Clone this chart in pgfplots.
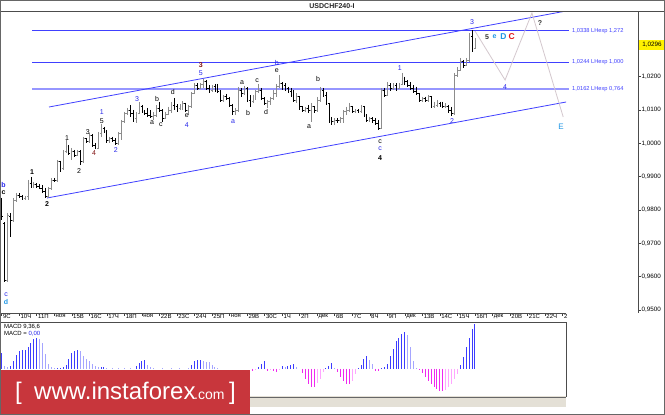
\documentclass[border=0pt]{standalone}
\usepackage{fontspec}
\setmainfont{Liberation Sans}
\usepackage{pgfplots}
\pgfplotsset{compat=1.18}
\usepackage{pgfplotstable}
\definecolor{mtblue}{RGB}{64,64,255}
\definecolor{mtlav}{RGB}{150,150,255}
\definecolor{wblue}{RGB}{40,40,235}
\definecolor{wmaroon}{RGB}{130,20,20}
\definecolor{wcyan}{RGB}{30,150,230}
\definecolor{wred}{RGB}{225,20,20}
\definecolor{macdB}{RGB}{60,60,255}
\definecolor{macdL}{RGB}{165,165,255}
\definecolor{macdM}{RGB}{240,40,240}
\definecolor{macdP}{RGB}{255,165,255}
\definecolor{logored}{RGB}{200,54,60}
\definecolor{strip}{RGB}{228,224,214}
\definecolor{fcast}{RGB}{212,200,206}
\definecolor{upbar}{RGB}{140,140,140}
\pgfdeclareplotmark{otick}{\pgfpathmoveto{\pgfqpoint{-1.3pt}{0pt}}\pgfpathlineto{\pgfqpoint{0pt}{0pt}}\pgfusepathqstroke}
\pgfdeclareplotmark{ctick}{\pgfpathmoveto{\pgfqpoint{0pt}{0pt}}\pgfpathlineto{\pgfqpoint{1.3pt}{0pt}}\pgfusepathqstroke}
\newcommand\lf{\fontsize{7}{8}\selectfont}
\newcommand\lfb{\fontsize{7}{8}\selectfont\bfseries}

\pgfplotstableread{
x h l o c
0 0.9836 0.9770 0.9830 0.9780
1 0.9763 0.9584 0.9760 0.9590
2 0.9791 0.9584 0.9590 0.9785
3 0.9791 0.9719 0.9780 0.9770
4 0.9836 0.9765 0.9770 0.9830
5 0.9851 0.9825 0.9830 0.9845
6 0.9851 0.9836 0.9845 0.9840
7 0.9845 0.9830 0.9840 0.9835
8 0.9842 0.9830 0.9835 0.9840
9 0.9890 0.9830 0.9840 0.9880
10 0.9899 0.9866 0.9880 0.9870
11 0.9884 0.9866 0.9870 0.9878
12 0.9881 0.9866 0.9878 0.9870
13 0.9878 0.9863 0.9870 0.9866
14 0.9875 0.9851 0.9866 0.9855
15 0.9866 0.9836 0.9855 0.9840
16 0.9869 0.9836 0.9840 0.9865
17 0.9896 0.9860 0.9865 0.9890
18 0.9896 0.9883 0.9890 0.9888
19 0.9950 0.9884 0.9888 0.9945
20 0.9948 0.9914 0.9945 0.9925
21 0.9980 0.9920 0.9925 0.9975
22 1.0010 0.9971 0.9975 0.9990
23 0.9995 0.9965 0.9990 0.9970
24 0.9986 0.9950 0.9970 0.9975
25 0.9980 0.9960 0.9975 0.9965
26 0.9980 0.9962 0.9965 0.9975
27 0.9980 0.9935 0.9975 0.9945
28 1.0019 0.9940 0.9945 1.0015
29 1.0016 1.0001 1.0015 1.0005
30 1.0030 1.0001 1.0005 1.0025
31 1.0028 0.9990 1.0025 0.9995
32 1.0001 0.9983 0.9995 0.9985
33 1.0034 0.9983 0.9985 1.0030
34 1.0058 1.0019 1.0030 1.0045
35 1.0050 1.0030 1.0045 1.0035
36 1.0040 1.0001 1.0035 1.0010
37 1.0020 1.0001 1.0010 1.0015
38 1.0020 1.0005 1.0015 1.0010
39 1.0015 0.9995 1.0010 1.0000
40 1.0034 0.9995 1.0000 1.0030
41 1.0070 1.0010 1.0030 1.0065
42 1.0094 1.0060 1.0065 1.0090
43 1.0106 1.0085 1.0090 1.0100
44 1.0115 1.0079 1.0100 1.0090
45 1.0100 1.0064 1.0090 1.0075
46 1.0094 1.0061 1.0075 1.0090
47 1.0124 1.0088 1.0090 1.0110
48 1.0115 1.0091 1.0110 1.0095
49 1.0100 1.0085 1.0095 1.0090
50 1.0106 1.0079 1.0090 1.0085
51 1.0100 1.0076 1.0085 1.0080
52 1.0094 1.0070 1.0080 1.0085
53 1.0115 1.0080 1.0085 1.0105
54 1.0124 1.0094 1.0105 1.0100
55 1.0102 1.0064 1.0100 1.0075
56 1.0094 1.0072 1.0075 1.0088
57 1.0110 1.0085 1.0088 1.0100
58 1.0124 1.0091 1.0100 1.0115
59 1.0136 1.0100 1.0115 1.0110
60 1.0117 1.0095 1.0110 1.0105
61 1.0117 1.0100 1.0105 1.0110
62 1.0127 1.0100 1.0110 1.0120
63 1.0122 1.0095 1.0120 1.0100
64 1.0115 1.0085 1.0100 1.0110
65 1.0154 1.0105 1.0110 1.0150
66 1.0181 1.0148 1.0150 1.0175
67 1.0181 1.0160 1.0175 1.0165
68 1.0181 1.0162 1.0165 1.0178
69 1.0193 1.0166 1.0178 1.0185
70 1.0190 1.0160 1.0185 1.0165
71 1.0175 1.0151 1.0165 1.0160
72 1.0175 1.0155 1.0160 1.0170
73 1.0178 1.0155 1.0170 1.0160
74 1.0178 1.0150 1.0160 1.0155
75 1.0160 1.0124 1.0155 1.0130
76 1.0145 1.0124 1.0130 1.0140
77 1.0148 1.0130 1.0140 1.0135
78 1.0139 1.0109 1.0135 1.0115
79 1.0118 1.0085 1.0115 1.0095
80 1.0105 1.0085 1.0095 1.0100
81 1.0169 1.0095 1.0100 1.0160
82 1.0166 1.0139 1.0160 1.0150
83 1.0172 1.0145 1.0150 1.0165
84 1.0168 1.0124 1.0165 1.0130
85 1.0145 1.0110 1.0130 1.0125
86 1.0145 1.0120 1.0125 1.0140
87 1.0160 1.0130 1.0140 1.0155
88 1.0178 1.0151 1.0155 1.0160
89 1.0166 1.0130 1.0160 1.0135
90 1.0138 1.0115 1.0135 1.0120
91 1.0130 1.0106 1.0120 1.0125
92 1.0139 1.0115 1.0125 1.0135
93 1.0160 1.0130 1.0135 1.0150
94 1.0178 1.0140 1.0150 1.0170
95 1.0205 1.0166 1.0170 1.0180
96 1.0184 1.0160 1.0180 1.0175
97 1.0180 1.0158 1.0175 1.0165
98 1.0169 1.0151 1.0165 1.0155
99 1.0166 1.0140 1.0155 1.0145
100 1.0160 1.0124 1.0145 1.0130
101 1.0150 1.0120 1.0130 1.0140
102 1.0142 1.0100 1.0140 1.0110
103 1.0112 1.0094 1.0110 1.0100
104 1.0109 1.0094 1.0100 1.0105
105 1.0115 1.0090 1.0105 1.0100
106 1.0121 1.0064 1.0100 1.0110
107 1.0112 1.0090 1.0110 1.0098
108 1.0139 1.0095 1.0098 1.0130
109 1.0169 1.0124 1.0130 1.0160
110 1.0166 1.0139 1.0160 1.0145
111 1.0154 1.0115 1.0145 1.0120
112 1.0121 1.0061 1.0120 1.0070
113 1.0079 1.0055 1.0070 1.0065
114 1.0075 1.0055 1.0065 1.0070
115 1.0075 1.0060 1.0070 1.0068
116 1.0079 1.0061 1.0068 1.0075
117 1.0100 1.0061 1.0075 1.0095
118 1.0110 1.0085 1.0095 1.0100
119 1.0121 1.0094 1.0100 1.0110
120 1.0112 1.0090 1.0110 1.0095
121 1.0102 1.0090 1.0095 1.0098
122 1.0102 1.0090 1.0098 1.0095
123 1.0115 1.0092 1.0095 1.0110
124 1.0112 1.0079 1.0110 1.0085
125 1.0088 1.0064 1.0085 1.0070
126 1.0080 1.0065 1.0070 1.0075
127 1.0078 1.0061 1.0075 1.0068
128 1.0076 1.0055 1.0068 1.0060
129 1.0070 1.0040 1.0060 1.0045
130 1.0166 1.0042 1.0045 1.0160
131 1.0166 1.0139 1.0160 1.0145
132 1.0184 1.0142 1.0145 1.0175
133 1.0180 1.0158 1.0175 1.0165
134 1.0180 1.0160 1.0165 1.0175
135 1.0180 1.0158 1.0175 1.0165
136 1.0182 1.0163 1.0165 1.0178
137 1.0211 1.0175 1.0178 1.0195
138 1.0200 1.0175 1.0195 1.0185
139 1.0190 1.0169 1.0185 1.0175
140 1.0184 1.0160 1.0175 1.0165
141 1.0175 1.0151 1.0165 1.0155
142 1.0170 1.0145 1.0155 1.0150
143 1.0151 1.0124 1.0150 1.0130
144 1.0140 1.0124 1.0130 1.0135
145 1.0140 1.0124 1.0135 1.0130
146 1.0145 1.0124 1.0130 1.0140
147 1.0142 1.0106 1.0140 1.0112
148 1.0125 1.0106 1.0112 1.0115
149 1.0130 1.0110 1.0115 1.0120
150 1.0125 1.0110 1.0120 1.0115
151 1.0125 1.0106 1.0115 1.0110
152 1.0120 1.0106 1.0110 1.0112
153 1.0115 1.0091 1.0112 1.0100
154 1.0109 1.0082 1.0100 1.0090
155 1.0211 1.0085 1.0090 1.0205
156 1.0229 1.0200 1.0205 1.0220
157 1.0256 1.0218 1.0220 1.0245
158 1.0250 1.0226 1.0245 1.0235
159 1.0256 1.0232 1.0235 1.0248
160 1.0331 1.0244 1.0248 1.0320
161 1.0340 1.0274 1.0320 1.0285
162 1.0316 1.0283 1.0285 1.0296
}\bars

\begin{document}
\begin{tikzpicture}[x=1pt,y=1pt]
\path[use as bounding box] (0,0) rectangle (665,415);
\fill[white] (0,0) rectangle (665,415);
% ---------------- main price chart ----------------
\begin{axis}[
  at={(0pt,102pt)}, anchor=south west, scale only axis,
  width=638pt, height=302pt,
  xmin=-0.58, xmax=217.8, ymin=0.9491, ymax=1.0397,
  axis line style={draw=none},
  tick align=outside, major tick length=3pt,
  tick style={black!75, line width=0.6pt},
  xtick pos=bottom, ytick pos=right, yticklabel pos=right,
  xtick={0,6,...,192},
  xticklabels={9С,10Ч,11П,ноя,15В,16С,17Ч,18П,ноя,22В,23С,24Ч,25П,ноя,29В,30С,1Ч,2П,дек,6В,7С,8Ч,9П,дек,13В,14С,15Ч,16П,дек,20В,21С,22Ч,2},
  xticklabel style={anchor=north west, inner sep=0pt, xshift=1.2pt, yshift=2pt, font=\fontsize{6}{7}\selectfont},
  ytick={0.95,0.96,0.97,0.98,0.99,1.00,1.01,1.02},
  yticklabels={{0,9500},{0,9600},{0,9700},{0,9800},{0,9900},{1,0000},{1,0100},{1,0200}},
  yticklabel style={anchor=west, inner sep=0pt, xshift=0.5pt, font=\fontsize{6.3}{7}\selectfont},
]
% level lines
\addplot[mtblue, line width=0.8pt] coordinates {(10.4,1.0338) (194.2,1.0338)};
\addplot[mtblue, line width=0.8pt] coordinates {(10.4,1.0244) (194.2,1.0244)};
\addplot[mtlav, line width=2.2pt] coordinates {(10.4,1.0162) (194.2,1.0162)};
% channel
\addplot[mtblue, line width=0.8pt] coordinates {(16.2,1.0109) (193.2,1.0397)};
\addplot[mtblue, line width=0.8pt] coordinates {(15.5,0.9836) (193.2,1.0124)};
% forecast path
\addplot[fcast, line width=0.8pt] coordinates {(162,1.0337) (172.3,1.0190) (181.5,1.0391) (192.2,1.0079)};
% OHLC bars: up bars
\addplot[draw=none, mark=none, restrict expr to domain={\thisrow{c}-\thisrow{o}}{0:1},
  error bars/.cd, y dir=minus, y explicit, error mark=none,
  error bar style={draw=upbar, line width=0.8pt}]
  table[x=x, y=h, y error minus expr=\thisrow{h}-\thisrow{l}] {\bars};
\addplot[only marks, mark=otick, upbar, line width=0.8pt, restrict expr to domain={\thisrow{c}-\thisrow{o}}{0:1}] table[x=x, y=o] {\bars};
\addplot[only marks, mark=ctick, upbar, line width=0.8pt, restrict expr to domain={\thisrow{c}-\thisrow{o}}{0:1}] table[x=x, y=c] {\bars};
% down bars
\addplot[draw=none, mark=none, restrict expr to domain={\thisrow{c}-\thisrow{o}}{-1:-0.00001},
  error bars/.cd, y dir=minus, y explicit, error mark=none,
  error bar style={draw=black, line width=0.8pt}]
  table[x=x, y=h, y error minus expr=\thisrow{h}-\thisrow{l}] {\bars};
\addplot[only marks, mark=otick, black, line width=0.8pt, restrict expr to domain={\thisrow{c}-\thisrow{o}}{-1:-0.00001}] table[x=x, y=o] {\bars};
\addplot[only marks, mark=ctick, black, line width=0.8pt, restrict expr to domain={\thisrow{c}-\thisrow{o}}{-1:-0.00001}] table[x=x, y=c] {\bars};
% level texts
\node[anchor=west, text=mtblue, font=\fontsize{5.7}{6}\selectfont, inner sep=0pt] at (axis cs:195.2,1.0338) {1,0338 LHexp 1,272};
\node[anchor=west, text=mtblue, font=\fontsize{5.7}{6}\selectfont, inner sep=0pt] at (axis cs:195.2,1.0244) {1,0244 LHexp 1,000};
\node[anchor=west, text=mtblue, font=\fontsize{5.7}{6}\selectfont, inner sep=0pt] at (axis cs:195.2,1.0162) {1,0162 LHexp 0,764};
% wave labels
\node[text=wmaroon, font=\lfb] at (axis cs:68.2,1.0235) {3};
\node[text=wblue, font=\lf] at (axis cs:68.2,1.0211) {5};
\node[text=wblue, font=\lf] at (axis cs:94.2,1.0241) {b};
\node[text=black, font=\lf] at (axis cs:94.2,1.0217) {e};
\node[text=black, font=\lf] at (axis cs:82.3,1.0181) {a};
\node[text=black, font=\lf] at (axis cs:87.4,1.0187) {c};
\node[text=black, font=\lf] at (axis cs:108.3,1.0193) {b};
\node[text=black, font=\lf] at (axis cs:84.3,1.0091) {b};
\node[text=black, font=\lf] at (axis cs:90.5,1.0094) {d};
\node[text=black, font=\lf] at (axis cs:105.2,1.0049) {a};
\node[text=wblue, font=\lf] at (axis cs:79.2,1.0064) {a};
\node[text=black, font=\lf] at (axis cs:58.6,1.0154) {d};
\node[text=black, font=\lf] at (axis cs:63.4,1.0082) {e};
\node[text=wblue, font=\lf] at (axis cs:63.4,1.0055) {4};
\node[text=wblue, font=\lf] at (axis cs:46.3,1.0133) {3};
\node[text=black, font=\lf] at (axis cs:53.2,1.0133) {b};
\node[text=black, font=\lf] at (axis cs:51.5,1.0061) {a};
\node[text=black, font=\lf] at (axis cs:54.5,1.0055) {c};
\node[text=wblue, font=\lf] at (axis cs:34.3,1.0094) {1};
\node[text=black, font=\lf] at (axis cs:34.3,1.0067) {5};
\node[text=black, font=\lf] at (axis cs:29.5,1.0034) {3};
\node[text=wmaroon, font=\lf] at (axis cs:31.6,0.9971) {4};
\node[text=black, font=\lf] at (axis cs:22.4,1.0016) {1};
\node[text=black, font=\lf] at (axis cs:26.5,0.9917) {2};
\node[text=wblue, font=\lf] at (axis cs:39.1,0.9980) {2};
\node[text=black, font=\lfb] at (axis cs:10.4,0.9914) {1};
\node[text=wblue, font=\lfb] at (axis cs:0.6,0.9875) {b};
\node[text=black, font=\lfb] at (axis cs:0.6,0.9851) {c};
\node[text=black, font=\lfb] at (axis cs:15.5,0.9818) {2};
\node[text=wblue, font=\lf] at (axis cs:1.5,0.9545) {c};
\node[text=wcyan, font=\lfb] at (axis cs:1.5,0.9524) {d};
\node[text=wblue, font=\lf] at (axis cs:161,1.0364) {3};
\node[text=black!80, font=\lfb] at (axis cs:166.1,1.0319) {5};
\node[text=wcyan, font=\lfb] at (axis cs:168.7,1.0319) {e};
\node[text=wcyan, font=\fontsize{8.5}{9}\selectfont\bfseries] at (axis cs:171.7,1.0321) {D};
\node[text=wred, font=\fontsize{8.5}{9}\selectfont\bfseries] at (axis cs:174.6,1.0321) {C};
\node[text=black!80, font=\lfb] at (axis cs:184.3,1.0361) {?};
\node[text=wblue, font=\lf] at (axis cs:136.3,1.0226) {1};
\node[text=wblue, font=\lf] at (axis cs:172.3,1.0169) {4};
\node[text=wblue, font=\lf] at (axis cs:154.2,1.0067) {2};
\node[text=wcyan, font=\fontsize{8}{9}\selectfont] at (axis cs:191.5,1.0049) {E};
\node[text=black, font=\lf] at (axis cs:129.5,1.0004) {c};
\node[text=wblue, font=\lf] at (axis cs:129.5,0.9983) {c};
\node[text=black, font=\lfb] at (axis cs:129.5,0.9956) {4};
\end{axis}
% frame lines of the main window
\draw[black!70, line width=0.7pt] (0,404) -- (665,404);
\draw[black!70, line width=0.7pt] (638,102) -- (638,404);
\draw[black!70, line width=0.7pt] (0,102) -- (566,102);
\node[font=\fontsize{7}{8}\selectfont\bfseries, text=black!85] at (332,409) {USDCHF240-I};
% current price
\fill[yellow] (639,365) rectangle (665,375);
\node[font=\fontsize{6.3}{7}\selectfont, inner sep=0pt] at (652,370) {1,0296};
% ---------------- MACD ----------------
\begin{axis}[
  at={(0pt,19pt)}, anchor=south west, scale only axis,
  width=566pt, height=74pt,
  xmin=-0.58, xmax=193.2, ymin=-27, ymax=47,
  axis line style={draw=black!70, line width=0.7pt},
  xtick=\empty, ytick=\empty,
]
\addplot[ycomb, mark=none, macdL, line width=0.9pt] coordinates {(1,3)(2,2)(13,30)(14,26)(15,15)(16,5)(17,2)(18,1)(27,18)(28,13)(29,10)(30,8)(31,5)(32,3)(33,2)(36,1)(38,1)(40,1)(42,1)(44,1)(50,4)(51,2)(52,1)(55,1)(58,1)(61,1)(64,1)(69,8)(70,7)(71,7)(72,4)(73,2)(74,1)(97,2)(101,2)(114,1)(126,9)(127,5)(139,34)(140,22)(141,8)(142,1)};
\addplot[ycomb, mark=none, macdB, line width=0.9pt] coordinates {(0,16)(3,3)(4,8)(5,14)(6,18)(7,19)(8,19)(9,22)(10,26)(11,30)(12,31)(19,1)(20,1)(21,2)(22,4)(23,10)(24,16)(25,18)(26,19)(34,2)(35,2)(46,3)(47,6)(48,8)(49,9)(65,4)(66,8)(67,9)(68,9)(88,2)(89,5)(90,8)(96,3)(98,3)(99,4)(100,5)(111,1)(112,3)(113,6)(122,1)(123,4)(124,10)(125,13)(130,1)(131,2)(132,5)(133,13)(134,20)(135,28)(136,31)(137,35)(138,37)(157,4)(158,12)(159,22)(160,31)(161,40)(162,45)};
\addplot[ycomb, mark=none, macdM, line width=0.9pt] coordinates {(86,-2)(91,-2)(93,-2)(94,-3)(103,-4)(104,-10)(105,-15)(106,-18)(107,-18)(115,-3)(116,-8)(117,-12)(118,-15)(119,-15)(128,-2)(129,-2)(143,-1)(144,-4)(145,-8)(146,-12)(147,-15)(148,-18)(149,-20)(150,-22)(151,-22)};
\addplot[ycomb, mark=none, macdP, line width=0.9pt] coordinates {(87,-1)(92,-1)(95,-1)(108,-14)(109,-10)(110,-3)(120,-12)(121,-5)(152,-21)(153,-18)(154,-15)(155,-10)(156,-5)};
\node[anchor=north west, align=left, font=\fontsize{6}{7}\selectfont, inner sep=1pt] at (rel axis cs:0.005,0.99) {MACD 9,36,6\\MACD = \textcolor{wblue}{0,00}};
\end{axis}
% strip under MACD
\fill[strip] (250,8) rectangle (566,18.6);
\draw[black!60, line width=0.5pt] (250,17.3) -- (566,17.3);
% logo
\fill[logored] (0,0) rectangle (250,45);
\node[anchor=base west, text=white, font=\fontsize{24}{24}\selectfont, inner sep=0pt] at (15,15) {[};
\node[anchor=base west, text=white, font=\fontsize{24}{24}\selectfont, inner sep=0pt] at (34,15) {www.instaforex};
\node[anchor=base west, text=white, font=\fontsize{14}{14}\selectfont, inner sep=0pt] at (194,15) {.com};
\node[anchor=base west, text=white, font=\fontsize{24}{24}\selectfont, inner sep=0pt] at (229,15) {]};
% outer frame
\draw[black!60, line width=0.8pt] (0.4,0.4) rectangle (664.6,414.6);
\end{tikzpicture}
\end{document}
